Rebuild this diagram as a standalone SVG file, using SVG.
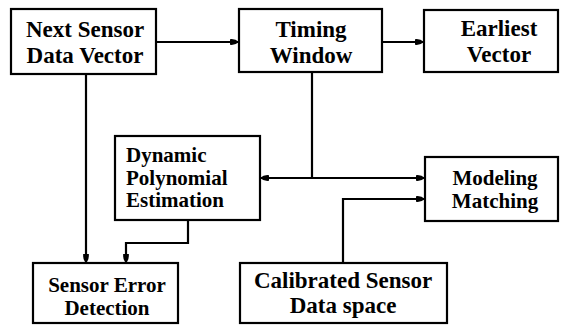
<svg xmlns="http://www.w3.org/2000/svg" width="561" height="326" viewBox="0 0 561 326">
<style>
.box{fill:#fff;stroke:#000;stroke-width:2.2}
.t{font-family:"Liberation Serif","Times New Roman",serif;font-weight:bold;font-size:23px;fill:#000}
.s{font-size:21px}
.c{text-anchor:middle}
.ln{fill:none;stroke:#000;stroke-width:2.2}
</style>
<defs>
<marker id="ah" markerUnits="userSpaceOnUse" markerWidth="10" markerHeight="8" refX="9" refY="4" orient="auto">
<path d="M0,1.2 Q5,0.5 9,4 Q5,7.5 0,6.8 z" fill="#000"/>
</marker>
</defs>
<rect width="561" height="326" fill="#fff"/>
<g id="connectors">
<path class="ln" d="M156,42 H239" marker-end="url(#ah)"/>
<path class="ln" d="M382,42 H424" marker-end="url(#ah)"/>
<path class="ln" d="M312,72 V178"/>
<path class="ln" d="M312,178 H260" marker-end="url(#ah)"/>
<path class="ln" d="M312,178 H425" marker-end="url(#ah)"/>
<path class="ln" d="M343,263 V199 H425" marker-end="url(#ah)"/>
<path class="ln" d="M86,74 V263" marker-end="url(#ah)"/>
<path class="ln" d="M188,220 V243 H126 V263" marker-end="url(#ah)"/>
</g>
<g id="next-sensor">
<rect class="box" x="11" y="9" width="145" height="65"/>
<text class="t c" x="85" y="37">Next Sensor</text>
<text class="t c" x="85" y="63">Data Vector</text>
</g>
<g id="timing-window">
<rect class="box" x="239" y="9" width="143" height="63"/>
<text class="t c" x="311" y="37">Timing</text>
<text class="t c" x="311" y="63">Window</text>
</g>
<g id="earliest-vector">
<rect class="box" x="424" y="10" width="134" height="62"/>
<text class="t c" x="499" y="36">Earliest</text>
<text class="t c" x="499" y="62">Vector</text>
</g>
<g id="dynamic-polynomial">
<rect class="box" x="115" y="136" width="145" height="84"/>
<text class="t s" x="126" y="162">Dynamic</text>
<text class="t s" x="126" y="185">Polynomial</text>
<text class="t s" x="126" y="207">Estimation</text>
</g>
<g id="modeling-matching">
<rect class="box" x="425" y="157" width="133" height="64"/>
<text class="t s c" x="495" y="185">Modeling</text>
<text class="t s c" x="495" y="208">Matching</text>
</g>
<g id="sensor-error">
<rect class="box" x="33" y="263" width="145" height="60"/>
<text class="t s c" x="107" y="292">Sensor Error</text>
<text class="t s c" x="107" y="315">Detection</text>
</g>
<g id="calibrated">
<rect class="box" x="240" y="263" width="207" height="60"/>
<text class="t c" x="343" y="288">Calibrated Sensor</text>
<text class="t c" x="343" y="313">Data space</text>
</g>
</svg>
